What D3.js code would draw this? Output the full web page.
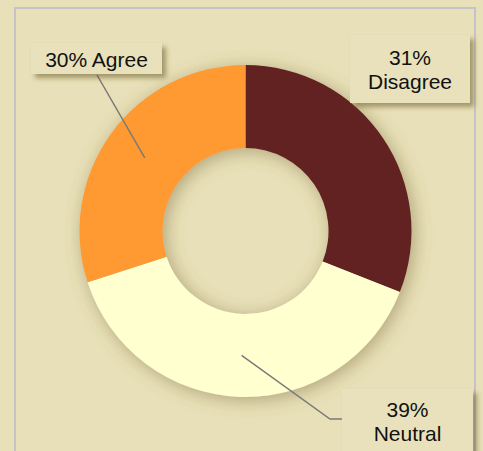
<!DOCTYPE html>
<style>
body { margin: 0; background: #e8e0b8; }
svg { display: block; }
</style>
<svg width="483" height="451"></svg>
<script src="https://d3js.org/d3.v7.min.js"></script>
<script>
// data
var categories = ["Disagree", "Neutral", "Agree"];
var values = [31, 39, 30];
var colors = ["#642424", "#ffffd0", "#ff9933"];

var svg = d3.select("svg"),
    cx = 245.5, cy = 231,
    outerR = 166, innerR = 83;

var defs = svg.append("defs");
var f1 = defs.append("filter").attr("id", "pieShadow")
    .attr("x", "-25%").attr("y", "-25%").attr("width", "150%").attr("height", "150%");
f1.append("feDropShadow").attr("dx", 3).attr("dy", 3).attr("stdDeviation", 9)
    .attr("flood-color", "#6b5a2a").attr("flood-opacity", 0.45);
var f2 = defs.append("filter").attr("id", "boxShadow")
    .attr("x", "-20%").attr("y", "-20%").attr("width", "140%").attr("height", "160%");
f2.append("feDropShadow").attr("dx", 4).attr("dy", 4).attr("stdDeviation", 2.5)
    .attr("flood-color", "#6b5a2a").attr("flood-opacity", 0.55);

// frame
svg.append("rect")
    .attr("x", 15).attr("y", 8).attr("width", 460).attr("height", 460)
    .attr("fill", "none").attr("stroke", "#c4c4c8").attr("stroke-width", 2);

var pie = d3.pie().sort(null).value(function(d) { return d; });
var arcs = pie(values);
var arc = d3.arc().innerRadius(innerR).outerRadius(outerR);
var midArc = d3.arc().innerRadius((innerR + outerR) / 2).outerRadius((innerR + outerR) / 2);

var g = svg.append("g").attr("transform", "translate(" + cx + "," + cy + ")");

g.append("g").attr("filter", "url(#pieShadow)")
  .selectAll("path")
  .data(arcs)
  .enter().append("path")
    .attr("d", arc)
    .attr("fill", function(d, i) { return colors[i]; });

// label boxes (layout)
var labels = [
  {box: [31, 43, 131, 31], lines: [values[2] + "% " + categories[2]], ty: 67, idx: 2, leader: [[97, 75]]},
  {box: [350, 35, 120, 68], lines: [values[0] + "%", categories[0]], ty: 65, idx: 0, leader: null},
  {box: [342, 389, 131, 80], lines: [values[1] + "%", categories[1]], ty: 417, idx: 1, leader: [[330, 419], [342, 419]]}
];

labels.forEach(function(l) {
  if (l.leader) {
    var c = midArc.centroid(arcs[l.idx]);
    var pts = [[cx + c[0], cy + c[1]]].concat(l.leader);
    svg.append("path")
      .attr("d", d3.line()(pts))
      .attr("fill", "none")
      .attr("stroke", "#7a7a78")
      .attr("stroke-width", 1.5);
  }
});

labels.forEach(function(l) {
  svg.append("rect")
    .attr("x", l.box[0]).attr("y", l.box[1])
    .attr("width", l.box[2]).attr("height", l.box[3])
    .attr("fill", "#e8e1bb")
    .attr("filter", "url(#boxShadow)");
  var t = svg.append("text")
    .attr("x", l.box[0] + l.box[2] / 2)
    .attr("y", l.ty)
    .attr("text-anchor", "middle")
    .attr("font-family", "'Liberation Sans', Arial, sans-serif")
    .attr("font-size", 21)
    .attr("fill", "#111");
  l.lines.forEach(function(s, i) {
    t.append("tspan").attr("x", l.box[0] + l.box[2] / 2).attr("dy", i ? 24 : 0).text(s);
  });
});
</script>
